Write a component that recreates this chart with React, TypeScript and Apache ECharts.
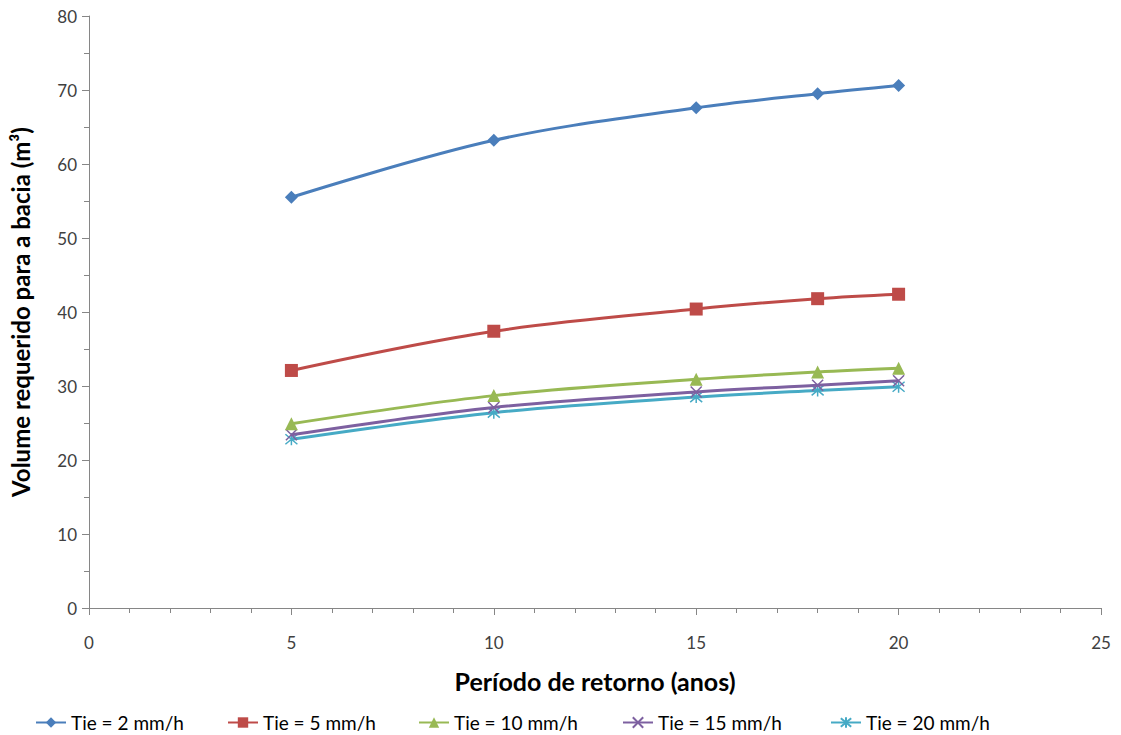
import React, { useEffect, useRef } from "react";
import * as echarts from "echarts";

// Return periods (years) and required basin volume (m³) per infiltration rate
const periods = [5, 10, 15, 18, 20];
const tie2 = [55.5, 63.2, 67.6, 69.5, 70.6];
const tie5 = [32.1, 37.4, 40.4, 41.8, 42.4];
const tie10 = [24.9, 28.7, 30.9, 31.9, 32.4];
const tie15 = [23.4, 27.1, 29.2, 30.1, 30.7];
const tie20 = [22.8, 26.4, 28.5, 29.4, 29.9];

const seriesNames = [
  "Tie = 2 mm/h",
  "Tie = 5 mm/h",
  "Tie = 10 mm/h",
  "Tie = 15 mm/h",
  "Tie = 20 mm/h",
];

const xTicks = [0, 25, 5];
const yTicks = [0, 80, 10];

const FONT = "Lato, 'Open Sans', sans-serif";

const crossPath = "path://M0,0L10,10M10,0L0,10";
const starPath = "path://M0,0L10,10M10,0L0,10M5,-1L5,11";

// Horizontal start of each legend entry along the bottom row
const legendLefts = [30, 222, 413, 617, 825];

export default function App() {
  const ref = useRef<HTMLDivElement>(null);

  useEffect(() => {
    if (!ref.current) return;
    const chart = echarts.init(ref.current, null, { renderer: "svg" });

    const defs = [
      { data: tie2, color: "#4A7EBB", symbol: "diamond", size: 13, stroke: false },
      { data: tie5, color: "#BE4B48", symbol: "rect", size: 13, stroke: false },
      { data: tie10, color: "#98B954", symbol: "triangle", size: 13, stroke: false },
      { data: tie15, color: "#7D60A0", symbol: crossPath, size: 11, stroke: true },
      { data: tie20, color: "#46AAC5", symbol: starPath, size: 12, stroke: true },
    ];

    const series = defs.map((d, i) => ({
      name: seriesNames[i],
      type: "line",
      smooth: 0.35,
      data: periods.map((p, j) => [p, d.data[j]]),
      symbol: d.symbol,
      symbolSize: d.size,
      showAllSymbol: true,
      lineStyle: { color: d.color, width: 3 },
      itemStyle: d.stroke
        ? { color: d.color, borderColor: d.color, borderWidth: 1.5 }
        : { color: d.color },
      z: 10 - i,
    }));

    const legends = seriesNames.map((name, i) => ({
      top: 708,
      left: legendLefts[i],
      itemWidth: 30,
      itemHeight: 13,
      textStyle: { fontFamily: FONT, fontSize: 19, color: "#000" },
      data: [name],
    }));

    chart.setOption({
      animation: false,
      backgroundColor: "#ffffff",
      grid: {
        left: 89,
        right: 20,
        top: 16,
        bottom: 127,
        containLabel: false,
        outerBoundsMode: "none",
      },
      xAxis: {
        type: "value",
        min: xTicks[0],
        max: xTicks[1],
        interval: xTicks[2],
        name: "Período de retorno (anos)",
        nameLocation: "middle",
        nameGap: 60,
        nameTextStyle: { fontFamily: FONT, fontSize: 25, fontWeight: "bold", color: "#000" },
        axisLine: { lineStyle: { color: "#868686", width: 1 } },
        axisTick: { show: true, length: 7, lineStyle: { color: "#868686" } },
        minorTick: { show: true, splitNumber: 5, length: 5, lineStyle: { color: "#868686" } },
        splitLine: { show: false },
        axisLabel: { fontFamily: FONT, fontSize: 17, color: "#404040", margin: 26 },
      },
      yAxis: {
        type: "value",
        min: yTicks[0],
        max: yTicks[1],
        interval: yTicks[2],
        name: "Volume requerido para a bacia (m³)",
        nameLocation: "middle",
        nameGap: 57,
        nameTextStyle: { fontFamily: FONT, fontSize: 24, fontWeight: "bold", color: "#000" },
        axisLine: { show: true, lineStyle: { color: "#868686", width: 1 } },
        axisTick: { show: true, length: 7, lineStyle: { color: "#868686" } },
        minorTick: { show: true, splitNumber: 2, length: 5, lineStyle: { color: "#868686" } },
        splitLine: { show: false },
        axisLabel: { fontFamily: FONT, fontSize: 17, color: "#404040", margin: 12 },
      },
      legend: legends,
      series,
    });

    return () => chart.dispose();
  }, []);

  return (
    <div
      ref={ref}
      style={{ position: "absolute", left: 0, top: 0, width: 1121, height: 735 }}
    />
  );
}
